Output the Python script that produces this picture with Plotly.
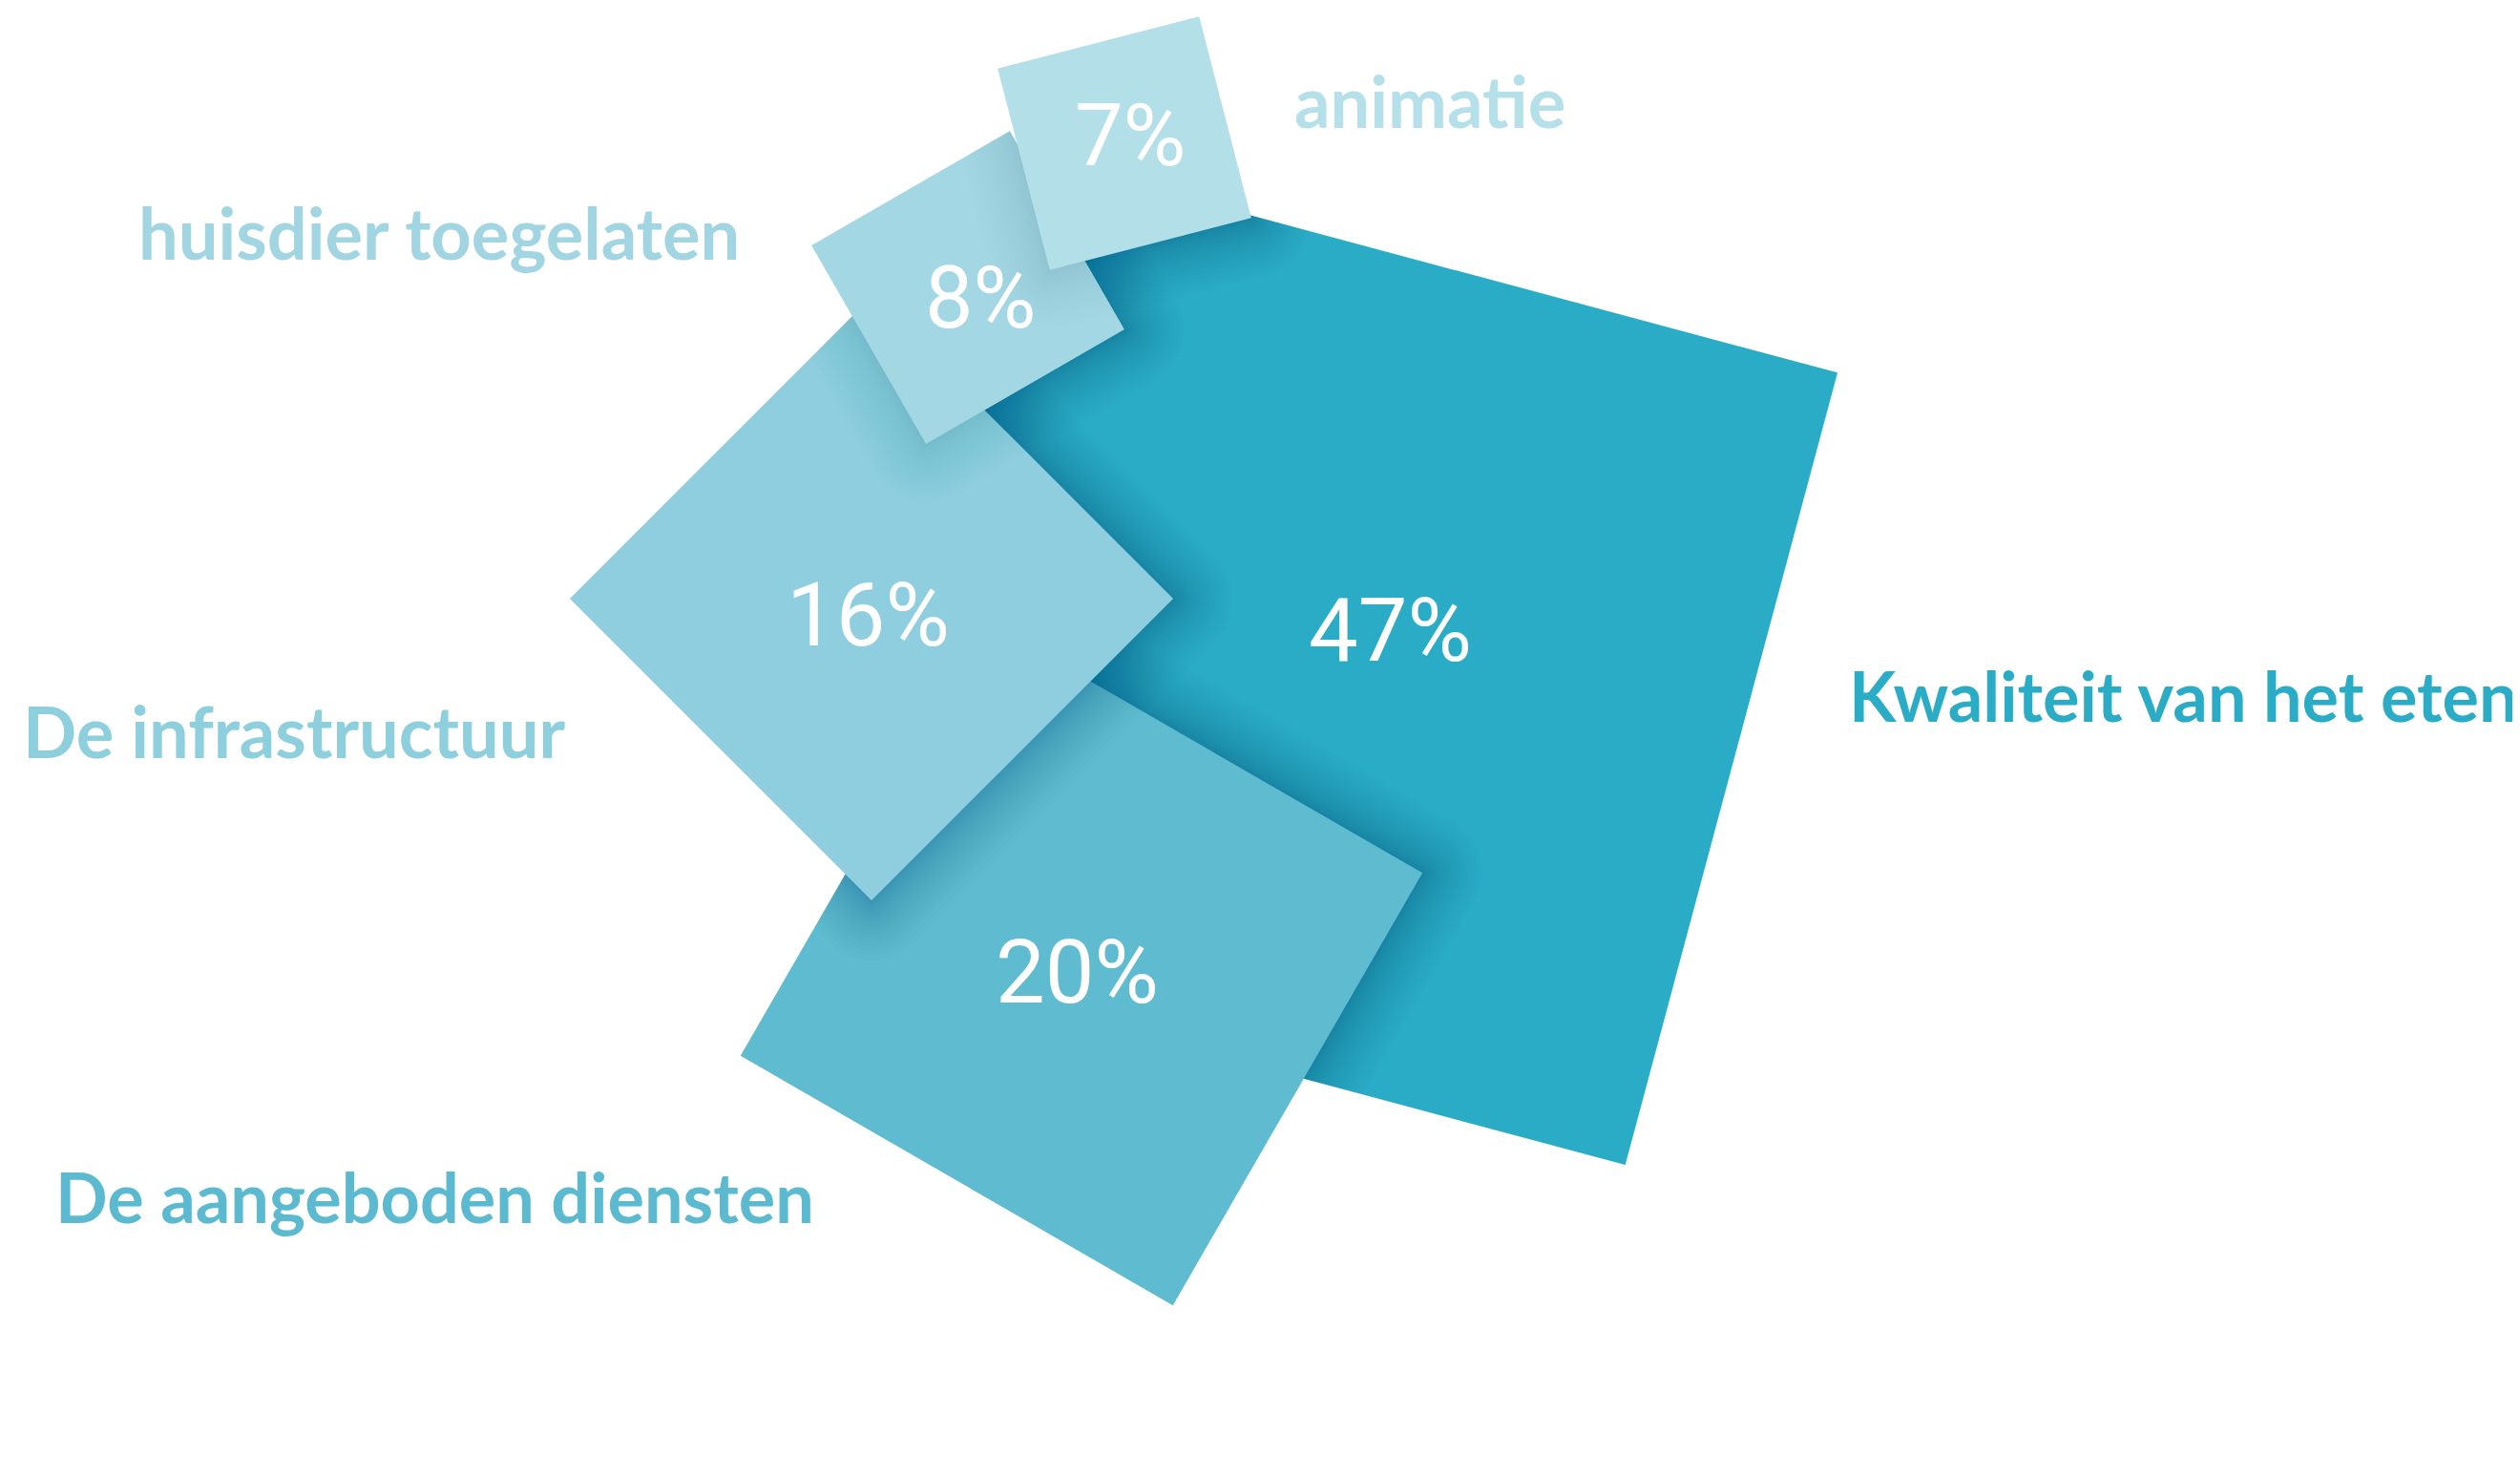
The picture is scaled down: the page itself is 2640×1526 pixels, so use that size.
import math
import plotly.graph_objects as go

# ---- data ----
categories = ["Kwaliteit van het eten", "De aangeboden diensten", "De infrastructuur",
              "huisdier toegelaten", "animatie"]
values = [47, 20, 16, 8, 7]
value_labels = [f"{v}%" for v in values]

# ---- geometry (pixels), bottom-most square first ----
centers_x = [1399, 1133, 913, 1014, 1178]
centers_y = [694, 1010, 627, 301, 150]
sides = [859, 523, 447, 240, 218]
angles = [15, 30, 45, -30, -14.5]
colors = ["#2AACC7", "#5FBBD0", "#8FCEDE", "#A3D7E4", "#B3DFE9"]
label_colors = ["#2AACC6", "#5BBAD0", "#8ECFDE", "#A2D5E2", "#B5DFE9"]
label_x = [1935, 56, 22, 143, 1354]
label_y = [728, 1253, 765, 243, 105]
label_size = [72, 72, 74, 74, 74]
pct_x = [1456, 1128, 909, 1027, 1184]
pct_y = [660, 1018, 644, 312, 142]
pct_size = [92, 92, 92, 90, 90]
shadow_strength = [1.0, 0.75, 0.3, 0.15, 0.1]

W, H = 2640, 1526
OFF = 8  # page body margin compensation
LABEL_FONT = "Lato, Roboto, sans-serif"
PCT_FONT = "Roboto, Lato, sans-serif"


def square(cx, cy, s, ang):
    h = s / 2
    t = math.radians(ang)
    ux, uy = math.cos(t), math.sin(t)
    vx, vy = -math.sin(t), math.cos(t)
    return [(cx + a * h * ux + b * h * vx, cy + a * h * uy + b * h * vy)
            for a, b in [(1, -1), (1, 1), (-1, 1), (-1, -1)]]


def rounded_grow(cx, cy, s, ang, d, steps=8):
    """square grown outward by d with rounded corners"""
    corners = square(cx, cy, s, ang)
    t = math.radians(ang)
    pts = []
    for k, (x, y) in enumerate(corners):
        a0 = math.radians(-90 + 90 * k)
        for m in range(steps + 1):
            a = t + a0 + (math.pi / 2) * m / steps
            pts.append((x + d * math.cos(a), y + d * math.sin(a)))
    return pts


def clip(subject, clipper):
    def area(p):
        s = 0
        for i in range(len(p)):
            x1, y1 = p[i]
            x2, y2 = p[(i + 1) % len(p)]
            s += x1 * y2 - x2 * y1
        return s
    sign = 1 if area(clipper) > 0 else -1

    def inside(p, a, b):
        return sign * ((b[0] - a[0]) * (p[1] - a[1]) - (b[1] - a[1]) * (p[0] - a[0])) >= 0

    def inter(p, q, a, b):
        x1, y1 = p; x2, y2 = q; x3, y3 = a; x4, y4 = b
        den = (x1 - x2) * (y3 - y4) - (y1 - y2) * (x3 - x4)
        if abs(den) < 1e-12:
            return q
        t = ((x1 - x3) * (y3 - y4) - (y1 - y3) * (x3 - x4)) / den
        return (x1 + t * (x2 - x1), y1 + t * (y2 - y1))

    out = list(subject)
    for i in range(len(clipper)):
        a, b = clipper[i], clipper[(i + 1) % len(clipper)]
        inp = out
        out = []
        if not inp:
            break
        prev = inp[-1]
        for cur in inp:
            if inside(cur, a, b):
                if not inside(prev, a, b):
                    out.append(inter(prev, cur, a, b))
                out.append(cur)
            elif inside(prev, a, b):
                out.append(inter(prev, cur, a, b))
            prev = cur
    return out


def poly_trace(pts, color):
    xs = [p[0] for p in pts] + [pts[0][0]]
    ys = [p[1] for p in pts] + [pts[0][1]]
    return go.Scatter(x=xs, y=ys, mode="lines", fill="toself", fillcolor=color,
                      line=dict(width=0, color=color), hoverinfo="skip", showlegend=False)


fig = go.Figure()
n = len(values)
N_LAYERS = 20
MAXD = 62
for i in range(n):
    base = square(centers_x[i], centers_y[i], sides[i], angles[i])
    fig.add_trace(poly_trace(base, colors[i]))
    # soft shadows of the squares lying above this one
    for j in range(i + 1, n):
        for k in range(N_LAYERS):
            d = MAXD * ((k + 1) / N_LAYERS) ** 1.6
            sh = rounded_grow(centers_x[j], centers_y[j], sides[j], angles[j], d)
            c = clip(sh, base)
            if len(c) >= 3:
                a = 0.45 * shadow_strength[i] / N_LAYERS
                fig.add_trace(poly_trace(c, f"rgba(0,70,120,{a:.4f})"))

annotations = []
for i in range(n):
    annotations.append(dict(
        x=pct_x[i], y=pct_y[i], xref="x", yref="y", text=value_labels[i],
        showarrow=False, xanchor="center", yanchor="middle",
        font=dict(family=PCT_FONT, size=pct_size[i], color="white")))
    annotations.append(dict(
        x=label_x[i], y=label_y[i], xref="x", yref="y", text=categories[i],
        showarrow=False, xanchor="left", yanchor="middle",
        font=dict(family=LABEL_FONT, size=label_size[i], color=label_colors[i], weight=700)))

fig.update_layout(
    width=W, height=H, margin=dict(l=0, r=0, t=0, b=0),
    paper_bgcolor="white", plot_bgcolor="white",
    xaxis=dict(range=[OFF, W + OFF], visible=False, fixedrange=True),
    yaxis=dict(range=[H + OFF, OFF], visible=False, fixedrange=True),
    annotations=annotations, showlegend=False,
)
fig.write_html("out.html")
